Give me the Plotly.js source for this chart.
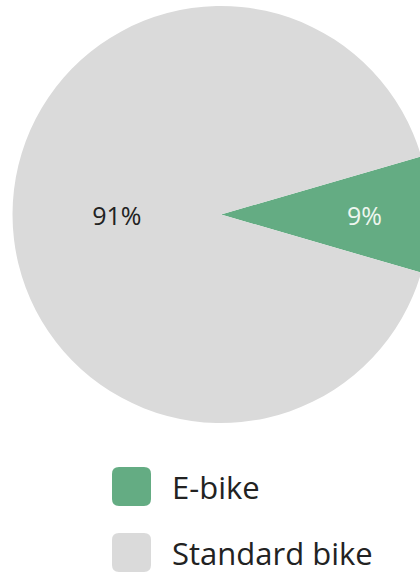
<!DOCTYPE html>
<html>
<head>
<meta charset="utf-8">
<script src="https://cdn.plot.ly/plotly-3.0.1.min.js"></script>
<style>
html,body{margin:0;padding:0;overflow:hidden;background:#fff;}
#chart{width:442px;height:573px;}
</style>
</head>
<body>
<div id="chart"></div>
<script>
var categories = ['E-bike', 'Standard bike'];
var shares = [9, 91];
var sliceColors = ['#64ac83', '#dadada'];
var labelColors = ['#eef6ef', '#222222'];

var W = 442, H = 573;
function px(x){ return x / W; }
function py(y){ return 1 - y / H; }

var pad = '\u00a0\u00a0\u00a0\u00a0\u00a0\u00a0';

var trace = {
  type: 'pie',
  labels: categories,
  values: shares,
  sort: false,
  direction: 'clockwise',
  rotation: 90 - shares[0] / 100 * 180,
  marker: {colors: sliceColors, line: {width: 0}},
  texttemplate: ['%{percent}' + pad, '%{percent}'],
  textposition: 'inside',
  insidetextorientation: 'horizontal',
  textfont: {family: 'Open Sans', size: 25, color: labelColors},
  showlegend: false,
  hoverinfo: 'none',
  domain: {x: [px(12), px(430)], y: [py(423), py(6)]}
};

// legend drawn as rounded swatches + text
var shapes = [], annotations = [];
var rowTop = [467, 533], sw = 39, rad = 7, x0 = 112;
for (var i = 0; i < categories.length; i++) {
  var t = rowTop[i], b = t + sw, l = x0, r = x0 + sw;
  var p = 'M' + px(l + rad) + ',' + py(t) +
    ' L' + px(r - rad) + ',' + py(t) +
    ' Q' + px(r) + ',' + py(t) + ' ' + px(r) + ',' + py(t + rad) +
    ' L' + px(r) + ',' + py(b - rad) +
    ' Q' + px(r) + ',' + py(b) + ' ' + px(r - rad) + ',' + py(b) +
    ' L' + px(l + rad) + ',' + py(b) +
    ' Q' + px(l) + ',' + py(b) + ' ' + px(l) + ',' + py(b - rad) +
    ' L' + px(l) + ',' + py(t + rad) +
    ' Q' + px(l) + ',' + py(t) + ' ' + px(l + rad) + ',' + py(t) + ' Z';
  shapes.push({type: 'path', xref: 'paper', yref: 'paper', path: p,
    fillcolor: sliceColors[i], line: {width: 0}});
  annotations.push({xref: 'paper', yref: 'paper', x: px(170), y: py(t + sw / 2),
    xanchor: 'left', yanchor: 'middle', showarrow: false, text: categories[i],
    font: {family: 'Open Sans', size: 31, color: '#222222'}});
}

var layout = {
  width: W, height: H,
  margin: {l: 0, r: 0, t: 0, b: 0},
  paper_bgcolor: '#ffffff',
  showlegend: false,
  uniformtext: {mode: 'show', minsize: 25},
  shapes: shapes,
  annotations: annotations
};

Plotly.newPlot('chart', [trace], layout, {displayModeBar: false, staticPlot: true});
</script>
</body>
</html>
